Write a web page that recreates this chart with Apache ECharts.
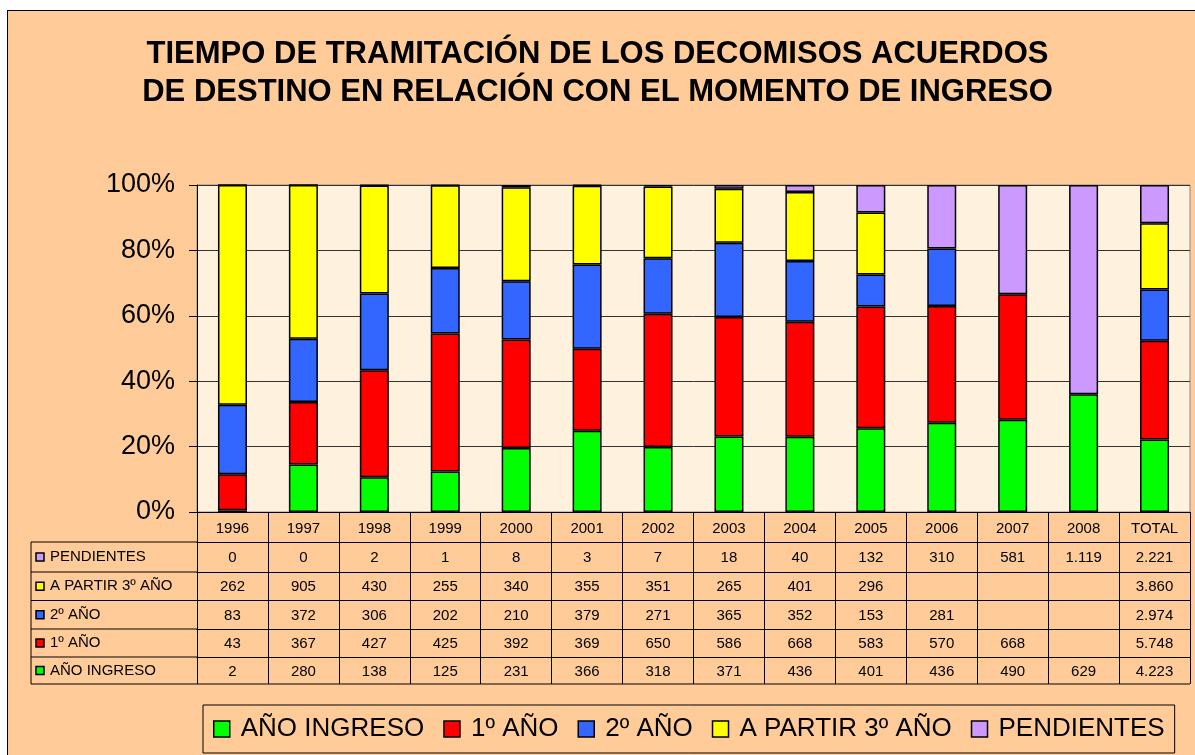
<!DOCTYPE html>
<html>
<head>
<meta charset="utf-8">
<script src="https://cdn.jsdelivr.net/npm/echarts@6/dist/echarts.min.js"></script>
<style>
  html, body { margin: 0; padding: 0; background: #fff; }
  #frame { position: absolute; left: 7px; top: 10px; width: 1200px; height: 760px; background: #FFCC99; border: 1px solid #000; }
  #chart { position: absolute; left: 0; top: 0; width: 1195px; height: 755px; }
</style>
</head>
<body>
<div id="frame"></div>
<div id="chart"></div>
<script>
const categories = ['1996', '1997', '1998', '1999', '2000', '2001', '2002', '2003', '2004', '2005', '2006', '2007', '2008', 'TOTAL'];
const anoIngreso = [2, 280, 138, 125, 231, 366, 318, 371, 436, 401, 436, 490, 629, 4223];
const primerAno = [43, 367, 427, 425, 392, 369, 650, 586, 668, 583, 570, 668, null, 5748];
const segundoAno = [83, 372, 306, 202, 210, 379, 271, 365, 352, 153, 281, null, null, 2974];
const aPartir3 = [262, 905, 430, 255, 340, 355, 351, 265, 401, 296, null, null, null, 3860];
const pendientes = [0, 0, 2, 1, 8, 3, 7, 18, 40, 132, 310, 581, 1119, 2221];

const seriesNames = ['AÑO INGRESO', '1º AÑO', '2º AÑO', 'A PARTIR 3º AÑO', 'PENDIENTES'];
const seriesValues = [anoIngreso, primerAno, segundoAno, aPartir3, pendientes];
const colors = ['#00FF00', '#FF0000', '#3366FF', '#FFFF00', '#CC99FF'];

const font = '"Liberation Sans", Arial, sans-serif';

// totales por columna para el 100%
const totals = categories.map((c, i) => seriesValues.reduce((s, arr) => s + (arr[i] || 0), 0));

function fmt(v) {
  if (v === null || v === undefined) return '';
  return String(v).replace(/\B(?=(\d{3})+(?!\d))/g, '.');
}

// tabla de datos
const axisY = 512;
const rowTops = [542, 572, 600.5, 629, 657];
const tableBottom = 684;
const labelLeft = 31;
const gridLeft = 197;
const gridRight = 1190;
const tableOrder = [4, 3, 2, 1, 0]; // filas de arriba a abajo

const xAxes = [{
  type: 'category',
  data: categories,
  position: 'bottom',
  axisLine: { show: true, lineStyle: { color: '#000', width: 1 } },
  axisTick: { show: true, length: 30, lineStyle: { color: '#000', width: 1 } },
  axisLabel: { interval: 0, margin: 9, fontSize: 15, color: '#000', fontFamily: font },
  splitLine: { show: false }
}];

tableOrder.forEach((s, j) => {
  const h = (j < 4 ? rowTops[j + 1] : tableBottom) - rowTops[j];
  xAxes.push({
    type: 'category',
    data: categories,
    position: 'bottom',
    offset: rowTops[j] - axisY,
    silent: true,
    axisLine: { show: true, lineStyle: { color: '#000', width: 1 } },
    axisTick: { show: true, length: h, lineStyle: { color: '#000', width: 1 } },
    axisLabel: {
      interval: 0, margin: (h - 15) / 2 + 1, fontSize: 15, color: '#000', fontFamily: font,
      formatter: (v, idx) => fmt(seriesValues[s][idx])
    },
    splitLine: { show: false }
  });
});

const graphics = [];
// lineas de la columna de etiquetas
rowTops.concat([tableBottom]).forEach(y => {
  graphics.push({
    type: 'line', silent: true,
    shape: { x1: labelLeft, y1: y, x2: gridLeft, y2: y },
    style: { stroke: '#000', lineWidth: 1 }
  });
});
graphics.push({
  type: 'line', silent: true,
  shape: { x1: gridLeft, y1: tableBottom, x2: gridRight, y2: tableBottom },
  style: { stroke: '#000', lineWidth: 1 }
});
graphics.push({
  type: 'line', silent: true,
  shape: { x1: labelLeft, y1: rowTops[0], x2: labelLeft, y2: tableBottom },
  style: { stroke: '#000', lineWidth: 1 }
});
tableOrder.forEach((s, j) => {
  const h = (j < 4 ? rowTops[j + 1] : tableBottom) - rowTops[j];
  const cy = rowTops[j] + h / 2;
  graphics.push({
    type: 'rect', silent: true,
    shape: { x: 36, y: cy - 4, width: 8, height: 8 },
    style: { fill: colors[s], stroke: '#000', lineWidth: 1.5 }
  });
  graphics.push({
    type: 'text', silent: true,
    x: 50, y: cy,
    style: { text: seriesNames[s], fill: '#000', font: '15px ' + font, textVerticalAlign: 'middle' }
  });
});

const chart = echarts.init(document.getElementById('chart'));
chart.setOption({
  backgroundColor: 'transparent',
  animation: false,
  title: {
    text: 'TIEMPO DE TRAMITACIÓN DE LOS DECOMISOS ACUERDOS\nDE DESTINO EN RELACIÓN CON EL MOMENTO DE INGRESO',
    left: 'center',
    top: 30,
    textStyle: { fontSize: 31, fontWeight: 'bold', color: '#000', lineHeight: 38, fontFamily: font }
  },
  legend: {
    data: seriesNames,
    left: 203,
    top: 705,
    padding: [10, 10],
    itemGap: 19,
    itemWidth: 16,
    itemHeight: 16,
    icon: 'rect',
    borderColor: '#000',
    borderWidth: 1,
    itemStyle: { borderColor: '#000', borderWidth: 1.5 },
    textStyle: { fontSize: 26, color: '#000', fontFamily: font, padding: [0, 0, 0, 6], lineHeight: 28 }
  },
  grid: {
    left: gridLeft,
    right: 1195 - gridRight,
    top: 185,
    bottom: 755 - axisY,
    show: true,
    backgroundColor: '#FEF2DF',
    borderColor: '#888',
    borderWidth: 1
  },
  xAxis: xAxes,
  yAxis: {
    type: 'value',
    min: 0,
    max: 100,
    interval: 20,
    axisLine: { show: true, lineStyle: { color: '#000', width: 1 } },
    axisTick: { show: true, length: 8, lineStyle: { color: '#000' } },
    axisLabel: { formatter: '{value}%', fontSize: 27, color: '#000', margin: 22, fontFamily: font },
    splitLine: { show: true, lineStyle: { color: '#333', width: 1 } }
  },
  series: seriesNames.map((name, s) => ({
    name: name,
    type: 'bar',
    stack: 'total',
    xAxisIndex: 0,
    barWidth: 29,
    itemStyle: { color: colors[s], borderColor: '#000', borderWidth: 1.5 },
    data: seriesValues[s].map((v, i) => v === null ? null : v / totals[i] * 100)
  })),
  graphic: graphics
});
</script>
</body>
</html>
